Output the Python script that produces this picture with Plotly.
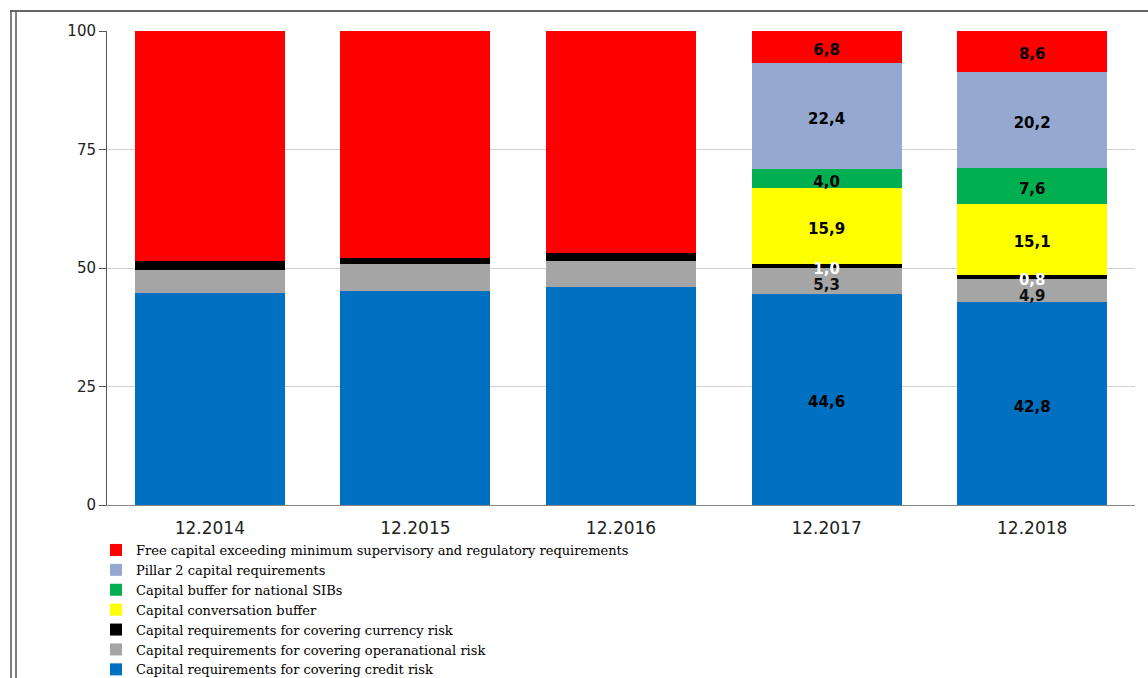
import plotly.graph_objects as go

categories = ["12.2014", "12.2015", "12.2016", "12.2017", "12.2018"]

series_names = [
    "Capital requirements for covering credit risk",
    "Capital requirements for covering operanational risk",
    "Capital requirements for covering currency risk",
    "Capital conversation buffer",
    "Capital buffer for national SIBs",
    "Pillar 2 capital requirements",
    "Free capital exceeding minimum supervisory and regulatory requirements",
]

credit_risk = [44.7, 45.2, 45.9, 44.6, 42.8]
operational_risk = [4.9, 5.6, 5.6, 5.3, 4.9]
currency_risk = [1.9, 1.3, 1.6, 1.0, 0.8]
conservation_buffer = [0.0, 0.0, 0.0, 15.9, 15.1]
sib_buffer = [0.0, 0.0, 0.0, 4.0, 7.6]
pillar2 = [0.0, 0.0, 0.0, 22.4, 20.2]
free_capital = [48.5, 47.9, 46.9, 6.8, 8.6]

series_values = [credit_risk, operational_risk, currency_risk,
                 conservation_buffer, sib_buffer, pillar2, free_capital]
series_colors = ["#0070C0", "#A5A5A5", "#000000", "#FFFF00",
                 "#00B050", "#95A9D0", "#FF0000"]
label_colors = ["#000000", "#111111", "#FFFFFF", "#000000",
                "#000000", "#000000", "#000000"]
labelled_categories = ["12.2017", "12.2018"]

y_ticks = [0, 25, 50, 75, 100]

# figure geometry (pixels)
W, H = 1148, 678
ML, MR, MT = 107, 13, 31
PLOT_BOTTOM = 505
dom_bottom = (H - PLOT_BOTTOM) / (H - MT)
pw = W - ML - MR


def px_x(p):
    return (p - ML) / pw


def px_y(p):
    return (H - p) / (H - MT)


fig = go.Figure()
for name, vals, col in zip(series_names, series_values, series_colors):
    fig.add_trace(go.Bar(x=categories, y=vals, name=name,
                         marker=dict(color=col, line=dict(width=0))))

# data labels near segment centres, nudged apart when segments are thin
lx, ly, lt, lc = [], [], [], []
for ci, cat in enumerate(categories):
    if cat not in labelled_categories:
        continue
    base = 0.0
    ys = []
    for si, vals in enumerate(series_values):
        v = vals[ci]
        ys.append(base + v / 2 - 0.9)
        base += v
    for k in range(len(ys) - 1, 0, -1):
        if ys[k] - ys[k - 1] < 3.4:
            ys[k - 1] = ys[k] - 3.4
    for si, vals in enumerate(series_values):
        v = vals[ci]
        lx.append(cat)
        ly.append(ys[si])
        lt.append(f"{v:.1f}".replace(".", ","))
        lc.append(label_colors[si])
fig.add_trace(go.Scatter(x=lx, y=ly, text=lt, mode="text", showlegend=False,
                         textfont=dict(family="DejaVu Sans", size=15, color=lc),
                         texttemplate="<b>%{text}</b>", hoverinfo="skip"))

fig.update_layout(
    width=W, height=H,
    barmode="stack", bargap=0.27,
    plot_bgcolor="white", paper_bgcolor="white",
    margin=dict(l=ML, r=MR, t=MT, b=0, autoexpand=False),
    font=dict(family="DejaVu Sans", size=15, color="#222222"),
    xaxis=dict(showline=True, linecolor="#888888", linewidth=1,
               tickfont=dict(size=17), ticks="", ticklabelstandoff=8,
               anchor="y"),
    yaxis=dict(range=[0, 100], tickvals=y_ticks, showgrid=True,
               domain=[dom_bottom, 1],
               gridcolor="#D0D0D0", showline=True, linecolor="#555555",
               ticks="outside", ticklen=7, tickcolor="#555555",
               tickfont=dict(size=15), zeroline=False),
    legend=dict(traceorder="reversed", orientation="v",
                x=px_x(96), xanchor="left", y=px_y(535), yanchor="top",
                font=dict(family="DejaVu Serif", size=13, color="#000000"),
                bgcolor="rgba(0,0,0,0)"),
    shapes=[
        dict(type="line", xref="paper", yref="paper", x0=px_x(10), x1=px_x(1148),
             y0=px_y(11), y1=px_y(11), line=dict(color="#333333", width=1.5)),
        dict(type="line", xref="paper", yref="paper", x0=px_x(11), x1=px_x(11),
             y0=px_y(11), y1=0, line=dict(color="#555555", width=1.5)),
        dict(type="line", xref="paper", yref="paper", x0=px_x(16), x1=px_x(16),
             y0=px_y(11), y1=0, line=dict(color="#555555", width=1.5)),
    ],
)

fig.write_html("out.html", config={"displayModeBar": False},
               post_script="document.body.style.margin='0';")
